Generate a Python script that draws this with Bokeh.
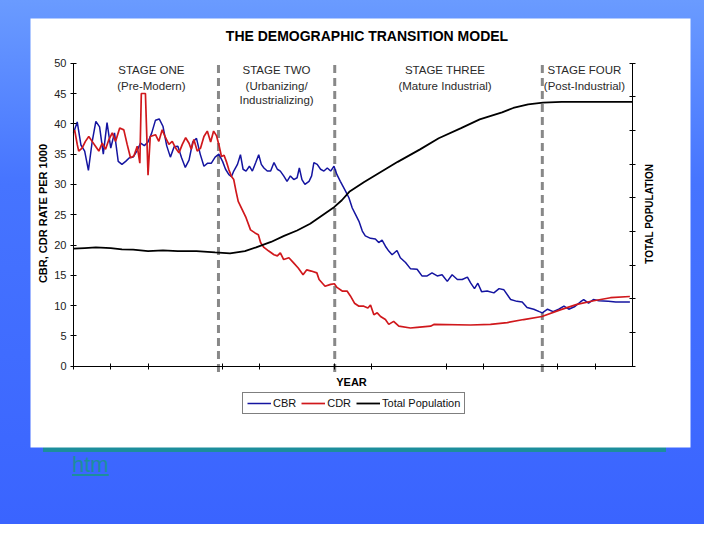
from bokeh.plotting import figure
from bokeh.models import (Range1d, LinearAxis, FixedTicker, Label, Legend,
                          LegendItem, Div)
from bokeh.layouts import column
from bokeh.embed import file_html
from bokeh.resources import INLINE
import math

# ---------------- data ----------------
title_text = "THE DEMOGRAPHIC TRANSITION MODEL"
rate_ticks = [0, 5, 10, 15, 20, 25, 30, 35, 40, 45, 50]
pop_ticks = [0, 1, 2, 3, 4, 5, 6, 7, 8, 9]
year_ticks = [0, 10, 20, 40, 50, 70, 80, 100, 110, 130, 140]
stage_bounds = [38.9, 70.1, 125.8]
stage_names = ["STAGE ONE", "STAGE TWO", "STAGE THREE", "STAGE FOUR"]
stage_subs = [["(Pre-Modern)"], ["(Urbanizing/", "Industrializing)"],
              ["(Mature Industrial)"], ["(Post-Industrial)"]]
stage_centers = [20.9, 54.5, 99.7, 137.1]

cbr_t = [0, 1, 2, 3, 4, 5, 6, 7, 8, 9, 10, 11, 12, 13, 14, 15, 16, 17, 18, 19,
         20, 21, 22, 23, 24, 25, 26, 27, 28, 29, 30, 31, 32, 33, 34, 35, 36, 37, 38, 39,
         40, 40.8, 41.7, 42.4, 43, 44, 44.8, 45.5, 46.3, 47.2,
         48, 48.9, 49.7, 50.4, 51.1, 52, 52.9, 53.8, 54.7, 55.5,
         56.4, 57.3, 58.2, 59.1, 60, 60.6, 61.3, 62.1, 63.2, 63.9,
         64.5, 65.4, 66.3, 67.2, 68.1, 69, 69.9, 70.7, 71.6, 73,
         73.9, 74.8, 75.7, 76.6, 77.5, 78.3, 79.7, 81, 81.9, 82.8,
         83.7, 84.6, 85.5, 86.8, 87.7, 89.1, 90.4, 92.2, 93.5, 94.9,
         96.2, 97.6, 98.9, 100.3, 101.6, 103, 104.3, 105.7, 106.6, 107.6,
         108.5, 109.5, 111, 112.8, 114.2, 115.5, 117.3, 119, 120.4, 121.7,
         123.5, 125, 125.8, 127.2, 128.7, 130.2, 131.6, 132.9, 134.4, 136,
         136.9, 138.2, 139.5, 141, 143.5, 145.5, 149.3]
cbr = [38.5, 40.3, 36.5, 35.5, 32.3, 37.0, 40.4, 39.5, 35.0, 40.2, 36.0, 38.5, 33.8, 33.3,
       33.8, 34.4, 34.5, 35.5, 36.8, 36.4, 37.0, 38.5, 40.6, 40.8, 39.6, 36.4, 34.5, 36.2,
       36.3, 34.4, 32.8, 34.0, 37.0, 37.6, 35.0, 33.0, 33.5, 33.5, 34.5, 35.0,
       33.8, 32.5, 31.6, 31.3, 32.2, 33.3, 34.9, 32.5, 32.2, 33.0,
       32.2, 33.6, 34.9, 33.3, 32.7, 32.2, 32.2, 33.6, 32.5, 32.2,
       31.4, 30.5, 31.4, 30.8, 31.1, 32.7, 30.8, 30.0, 30.5, 31.4,
       33.6, 33.3, 32.5, 32.2, 32.7, 32.2, 33.0, 31.6, 30.5, 28.9,
       27.8, 26.1, 25.0, 23.9, 22.3, 21.5, 21.1, 21.0, 20.4, 20.8,
       19.8, 19.0, 18.4, 19.1, 17.9, 17.1, 16.1, 16.0, 14.9, 14.9,
       15.4, 14.9, 15.1, 14.0, 15.1, 14.3, 14.3, 14.7, 13.7, 12.8,
       13.7, 12.3, 12.4, 12.1, 12.8, 12.6, 11.0, 10.7, 10.6, 9.7,
       9.4, 9.0, 8.8, 9.4, 9.0, 9.4, 9.9, 9.4, 9.8, 10.6,
       11.0, 10.4, 11.0, 10.8, 10.7, 10.6, 10.6]

cdr_t = [0.3, 1, 1.4, 2.3, 3.2, 4.1, 5, 5.9, 6.8, 7.7,
         8.6, 9.5, 10.4, 11.3, 12.4, 13.5, 14.4, 15.3, 16.2, 17.1,
         17.8, 18.2, 19.3, 20.0, 20.6, 22, 22.9, 23.8, 24.7, 25.6,
         26.5, 27.4, 28.3, 29.2, 30.1, 31, 31.6, 32.3, 33.2, 34.1,
         35, 35.9, 36.8, 37.6, 38.4, 39.1, 39.7, 40.4, 41, 41.7,
         42.4, 43, 43.6, 44.2, 45.3, 46.3, 47.5, 48.7, 49.6, 50.2,
         51.1, 52.4, 53.8, 54.7, 55.5, 56.4, 57.8, 59, 60.3, 61.6,
         62.6, 63.8, 65.3, 65.9, 67.5, 69, 70, 70.7, 72.1, 73.4,
         74.3, 75.4, 76.6, 77.9, 79, 79.7, 80.6, 81.5, 82.4, 83.7,
         84.6, 85.9, 87.3, 90.4, 92.2, 95.8, 96.7, 106.5, 111.9, 116.4,
         120.8, 125.7, 130.6, 135.1, 139.6, 144.1, 149.3]
cdr = [39.0, 36.6, 35.5, 36.0, 37.1, 37.9, 37.1, 36.3, 35.5, 36.8,
       35.8, 37.4, 38.5, 37.1, 39.3, 39.0, 36.6, 34.4, 34.7, 36.3,
       33.5, 45.0, 45.0, 31.5, 37.9, 38.2, 37.1, 39.0, 37.7, 36.6,
       37.1, 36.0, 35.2, 36.6, 37.7, 36.8, 35.8, 37.4, 35.5, 36.0,
       37.9, 38.8, 37.0, 38.8, 38.0, 36.3, 34.6, 34.8, 33.8, 32.4,
       31.3, 30.8, 28.9, 27.2, 25.8, 24.5, 22.5, 22.0, 21.7, 20.4,
       19.6, 19.0, 18.4, 18.2, 18.7, 17.6, 17.9, 17.1, 16.2, 15.1,
       15.9, 15.7, 15.4, 14.3, 13.2, 13.5, 13.6, 13.0, 12.4, 12.4,
       11.6, 10.4, 9.9, 9.9, 9.6, 10.1, 8.5, 8.8, 8.2, 7.7,
       6.9, 7.4, 6.6, 6.3, 6.4, 6.6, 6.9, 6.8, 6.9, 7.2,
       7.7, 8.2, 9.3, 10.2, 10.8, 11.3, 11.5]

pop_t = [0, 3, 6, 10, 13, 16, 20, 24, 28, 33, 38, 42, 46, 49, 53, 56.5, 60, 63.5,
         67, 70, 72, 74, 78, 82, 87, 93, 98, 104, 109, 115, 118, 122, 126, 131, 140, 150]
pop = [3.49, 3.51, 3.53, 3.51, 3.47, 3.46, 3.42, 3.44, 3.42, 3.42, 3.38, 3.35, 3.42,
       3.53, 3.69, 3.87, 4.03, 4.23, 4.50, 4.73, 4.93, 5.18, 5.47, 5.74, 6.07, 6.44,
       6.77, 7.07, 7.33, 7.54, 7.67, 7.78, 7.83, 7.85, 7.85, 7.85]

# ---------------- geometry / styles ----------------
FONT = "Liberation Sans"
BLUE = "#1414a0"
RED = "#d0181c"
FW, FH = 660, 429                 # frame = white panel
XPX = 559 / 150.0                 # px per x unit
YPX = 303 / 50.0                  # px per rate unit
X0 = -43 / XPX
X1 = (FW - 43) / XPX
Y1 = 50 + 44.7 / YPX
Y0 = -(FH - 347.7) / YPX
PK = 9 / 50.0                     # population axis scale vs rate axis

p = figure(width=25 + FW + 8, height=FH + 6, output_backend="svg",
           toolbar_location=None, x_axis_location=None, y_axis_location=None,
           x_range=Range1d(X0, X1), y_range=Range1d(Y0, Y1),
           min_border_left=25, min_border_right=8, min_border_top=0,
           min_border_bottom=6, background_fill_color="white",
           border_fill_color=None, outline_line_color=None)
p.extra_y_ranges = {"pop": Range1d(Y0 * PK, Y1 * PK)}
p.xgrid.visible = False
p.ygrid.visible = False
p.margin = (18, 0, 0, 5)

ya = LinearAxis(ticker=FixedTicker(ticks=rate_ticks, minor_ticks=[]),
                fixed_location=0, bounds=(0, 50), major_tick_in=3, major_tick_out=3,
                axis_line_color="black", major_tick_line_color="black",
                major_label_text_font=FONT, major_label_text_font_size="11px",
                major_label_text_color="#222222", major_label_standoff=4)
p.add_layout(ya, "left")

xa = LinearAxis(ticker=FixedTicker(ticks=year_ticks, minor_ticks=[]),
                fixed_location=0, bounds=(0, 150), major_tick_in=3, major_tick_out=3,
                axis_line_color="black", major_tick_line_color="black",
                major_label_text_font_size="1px", major_label_text_color=None,
                major_label_standoff=0)
p.add_layout(xa, "below")

ra = LinearAxis(y_range_name="pop", ticker=FixedTicker(ticks=pop_ticks, minor_ticks=[]),
                fixed_location=150, bounds=(0, 9), major_tick_in=3, major_tick_out=3,
                axis_line_color="black", major_tick_line_color="black",
                major_label_text_font_size="1px", major_label_text_color=None,
                major_label_standoff=0)
p.add_layout(ra, "right")

# stage boundaries
for xb in stage_bounds:
    p.line([xb, xb], [49.7, -1.0], line_color="#888888", line_width=3, line_dash="8 5")

r_cbr = p.line(cbr_t, cbr, line_color=BLUE, line_width=1.5)
r_cdr = p.line(cdr_t, cdr, line_color=RED, line_width=1.7)
r_pop = p.line(pop_t, pop, line_color="black", line_width=1.8, y_range_name="pop")

# stage labels
line_y = [48.84, 46.24, 43.85]
for name, subs, cx in zip(stage_names, stage_subs, stage_centers):
    for k, txt in enumerate([name] + subs):
        p.add_layout(Label(x=cx, y=line_y[k], text=txt, text_align="center",
                           text_baseline="middle", text_font=FONT,
                           text_font_size="11.5px", text_color="#2a2a2a"))

def screen_label(sx, sy, txt, size, angle=0.0):
    p.add_layout(Label(x=sx, y=sy, x_units="screen", y_units="screen", text=txt,
                       angle=angle, text_align="center", text_baseline="middle",
                       text_font=FONT, text_font_size=size, text_font_style="bold",
                       text_color="black"))

screen_label(336.5, 412, title_text, "14px")
screen_label(12.5, 234, "CBR, CDR RATE PER 1000", "11px", math.pi / 2)
screen_label(618.5, 233.7, "TOTAL POPULATION", "10px", math.pi / 2)
screen_label(321, 66, "YEAR", "11px")

legend = Legend(items=[LegendItem(label="CBR", renderers=[r_cbr]),
                       LegendItem(label="CDR", renderers=[r_cdr]),
                       LegendItem(label="Total Population", renderers=[r_pop])],
                location=(212, 33), orientation="horizontal",
                border_line_color="black", border_line_width=1,
                background_fill_color="white", background_fill_alpha=1,
                padding=4, spacing=5, glyph_width=24, glyph_height=12,
                label_height=12, label_standoff=2, margin=0,
                label_text_font=FONT, label_text_font_size="11px",
                label_text_color="#111111")
p.add_layout(legend, "center")

div = Div(width=660, height=50, margin=(0, 0, 0, 30), text=(
    '<div style="margin-left:42px;margin-top:0px;font-family:\'Liberation Sans\';'
    'font-size:22px;line-height:24px;color:#1c8e9c;text-decoration:underline;">htm</div>'))

bg = ("linear-gradient(#1c8e9c, #1c8e9c) 43px 447px / 623px 5px no-repeat, "
      "linear-gradient(180deg, #6a9bff 0%, #4674ff 35%, #3a64ff 100%)")
layout = column(p, div, width=704, height=524, spacing=0, styles={"background": bg})

open("out.html", "w").write(file_html(layout, INLINE))
